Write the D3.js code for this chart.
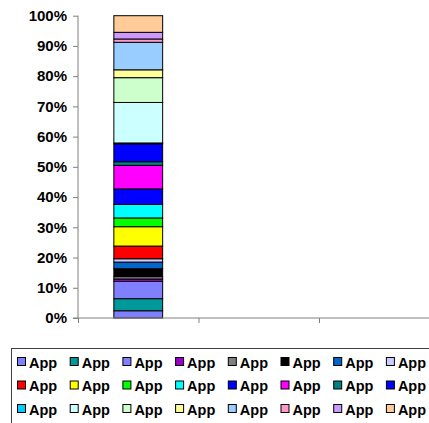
<!DOCTYPE html>
<html><head><meta charset="utf-8">
<script src="https://cdn.jsdelivr.net/npm/d3@7/dist/d3.min.js"></script>
<style>body{margin:0;background:#fff;}svg{display:block;font-family:"Liberation Sans",Arial,sans-serif;}</style>
</head><body><svg id="c" width="429" height="423"></svg>
<script>
const categories = ["", "", ""];
const seriesNames = ["App","App","App","App","App","App","App","App","App","App","App","App","App","App","App","App","App","App","App","App","App","App","App","App"];
const seriesColors = ["#8080ff","#009999","#8080ff","#9900cc","#808080","#000000","#0066cc","#ccccff",
  "#ff0000","#ffff00","#00ff00","#00ffff","#0000ff","#ff00ff","#008080","#0000ff",
  "#00ccff","#ccffff","#ccffcc","#ffff99","#99ccff","#ff99cc","#cc99ff","#ffcc99"];
// values per series for each category (only first category has data)
const seriesValues = [
  [2.4,0,0],[4.0,0,0],[5.7,0,0],[0.8,0,0],[0.8,0,0],[2.6,0,0],[2.2,0,0],[1.1,0,0],
  [4.2,0,0],[6.4,0,0],[2.9,0,0],[4.5,0,0],[5.1,0,0],[7.8,0,0],[1.2,0,0],[5.9,0,0],
  [0.3,0,0],[13.4,0,0],[8.2,0,0],[2.6,0,0],[9.1,0,0],[1.1,0,0],[2.2,0,0],[5.5,0,0]
];
const yTicks = [0,0.1,0.2,0.3,0.4,0.5,0.6,0.7,0.8,0.9,1.0];

const svg = d3.select("#c");
const plot = {left:78, right:439.5, top:15.7, bottom:318};
const x = d3.scaleBand().domain(d3.range(categories.length)).range([plot.left, plot.right]).padding(0);
const y = d3.scaleLinear().domain([0,1]).range([plot.bottom, plot.top]);

const totals = categories.map((c,i)=>d3.sum(seriesValues, s=>s[i]));
const barW = x.bandwidth()*0.405;
const g = svg.append("g");
categories.forEach((c,i)=>{
  if(!totals[i]) return;
  let acc = 0;
  seriesValues.forEach((s,k)=>{
    const v = s[i]/totals[i];
    const y0 = y(acc), y1 = y(acc+v);
    acc += v;
    g.append("rect")
      .attr("x", x(i)+ (x.bandwidth()-barW)/2)
      .attr("y", y1)
      .attr("width", barW)
      .attr("height", Math.max(0,y0-y1))
      .attr("fill", seriesColors[k])
      .attr("stroke", "#000").attr("stroke-width", 1);
  });
});

// y axis
const yAxis = d3.axisLeft(y).tickValues(yTicks).tickFormat(d3.format(".0%")).tickSize(5).tickPadding(6);
const ya = svg.append("g").attr("transform",`translate(${plot.left},0)`).call(yAxis);
ya.selectAll("path,line").attr("stroke","#808080");
ya.select("path").attr("d",`M0,${plot.top}V${plot.bottom}`);
ya.selectAll("text").attr("font-size",15).attr("font-weight","bold").attr("fill","#000").attr("font-family","Liberation Sans, Arial, sans-serif");

// x axis
const xt = d3.scaleLinear().domain([0,categories.length]).range([plot.left, plot.right]);
const xa = svg.append("g").attr("transform",`translate(0,${plot.bottom})`)
  .call(d3.axisBottom(xt).tickValues(d3.range(categories.length+1)).tickFormat("").tickSize(5));
xa.selectAll("path,line").attr("stroke","#808080");
xa.select("path").attr("d",`M${plot.left-5},0H${plot.right}`);

// legend
const lg = svg.append("g");
lg.append("rect").attr("x",11.5).attr("y",348.5).attr("width",440).attr("height",100)
  .attr("fill","#fff").attr("stroke","#404040");
seriesNames.forEach((n,k)=>{
  const col = k%8, row = Math.floor(k/8);
  const lx = 17 + col*52.7, ly = 362 + row*23.5;
  lg.append("rect").attr("x",lx+0.5).attr("y",ly-4.5).attr("width",8).attr("height",8)
    .attr("fill",seriesColors[k]).attr("stroke","#000");
  lg.append("text").attr("x",lx+12).attr("y",ly+5.5).text(n)
    .attr("font-size",14.5).attr("font-weight","bold").attr("fill","#000");
});
</script></body></html>
